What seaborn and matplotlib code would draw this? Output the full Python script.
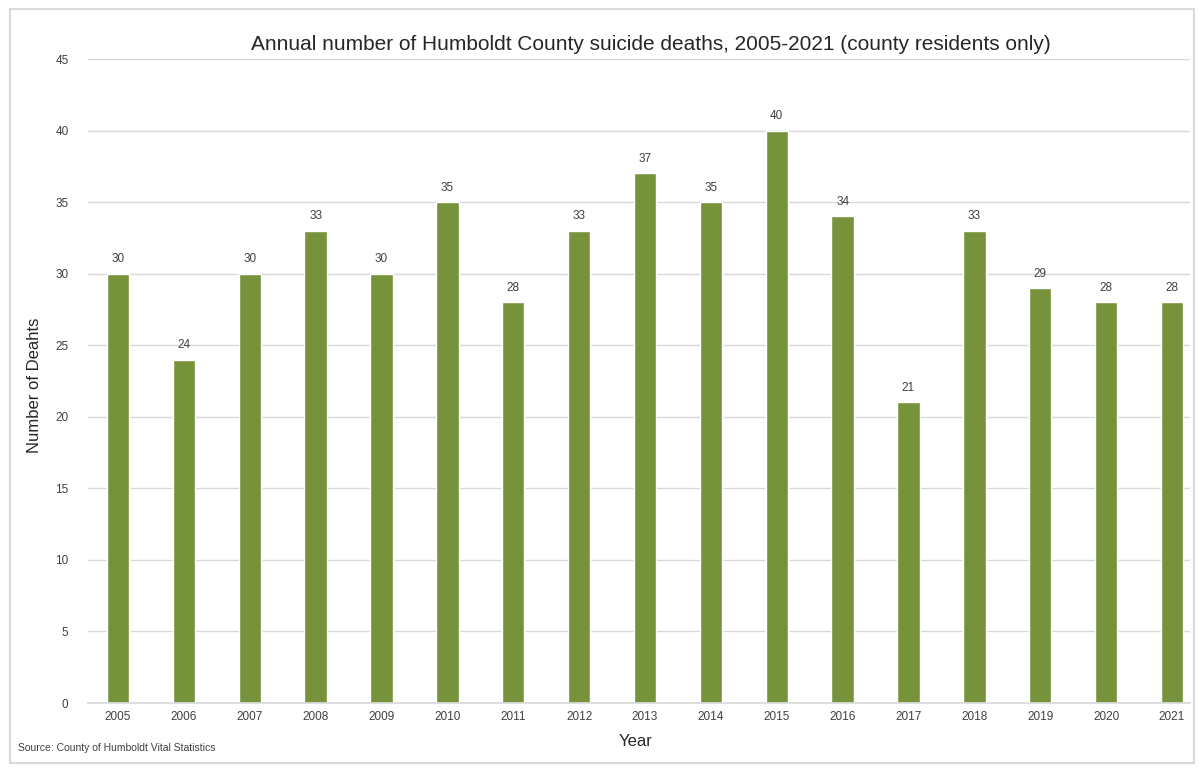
import matplotlib
matplotlib.use("Agg")
import matplotlib.pyplot as plt
import matplotlib.patches as mpatches
import seaborn as sns
import pandas as pd

years = ["2005", "2006", "2007", "2008", "2009", "2010", "2011", "2012", "2013",
         "2014", "2015", "2016", "2017", "2018", "2019", "2020", "2021"]
deaths = [30, 24, 30, 33, 30, 35, 28, 33, 37, 35, 40, 34, 21, 33, 29, 28, 28]
yticks = [0, 5, 10, 15, 20, 25, 30, 35, 40, 45]

df = pd.DataFrame({"Year": years, "Deaths": deaths})

sns.set_theme(style="white")
plt.rcParams['font.family'] = ['Liberation Sans', 'DejaVu Sans']

W, H = 1199, 769
fig = plt.figure(figsize=(W / 100, H / 100), dpi=100)
ax = fig.add_axes([88 / W, 1 - 703 / H, (1190 - 88) / W, (703 - 59) / H])

sns.barplot(data=df, x="Year", y="Deaths", color="#76933C", saturation=1,
            width=0.34, ax=ax, zorder=3)

ax.set_ylim(0, 45)
ax.set_xlim(-30 / 65.875, 16 + 18 / 65.875)
ax.set_yticks(yticks)
ax.grid(axis="y", color="#d9d9d9", linewidth=1, zorder=0)
ax.grid(axis="x", visible=False)
for s in ["top", "right", "left"]:
    ax.spines[s].set_visible(False)
ax.spines["bottom"].set_color("#d9d9d9")
ax.spines["bottom"].set_zorder(4)
ax.tick_params(axis="both", length=0, labelsize=8.5, colors="#404040")
ax.tick_params(axis="y", pad=14)
ax.tick_params(axis="x", pad=6)

for c in ax.containers:
    ax.bar_label(c, fontsize=8.5, padding=6, color="#404040")

ax.set_ylabel("Number of Deahts", fontsize=12, color="#262626")
ax.yaxis.set_label_coords((42 - 88) / (1190 - 88), (703 - 385) / (703 - 59))
ax.set_xlabel("Year", fontsize=12, color="#262626")
ax.xaxis.set_label_coords((636 - 88) / (1190 - 88), -(742 - 703) / (703 - 59))
ax.xaxis.label.set_va("center")

fig.text(651 / W, 1 - 45 / H,
         "Annual number of Humboldt County suicide deaths, 2005-2021 (county residents only)",
         ha="center", va="center", fontsize=15, color="#262626")
fig.text(18 / W, 1 - 748 / H, "Source: County of Humboldt Vital Statistics",
         ha="left", va="center", fontsize=7.5, color="#404040")

fig.patches.append(mpatches.Rectangle((10 / W, 6 / H), (1194 - 10) / W, (760 - 6) / H,
                                      transform=fig.transFigure, fill=False,
                                      edgecolor="#d9d9d9", linewidth=1.5))

fig.savefig("out.png", dpi=100)
